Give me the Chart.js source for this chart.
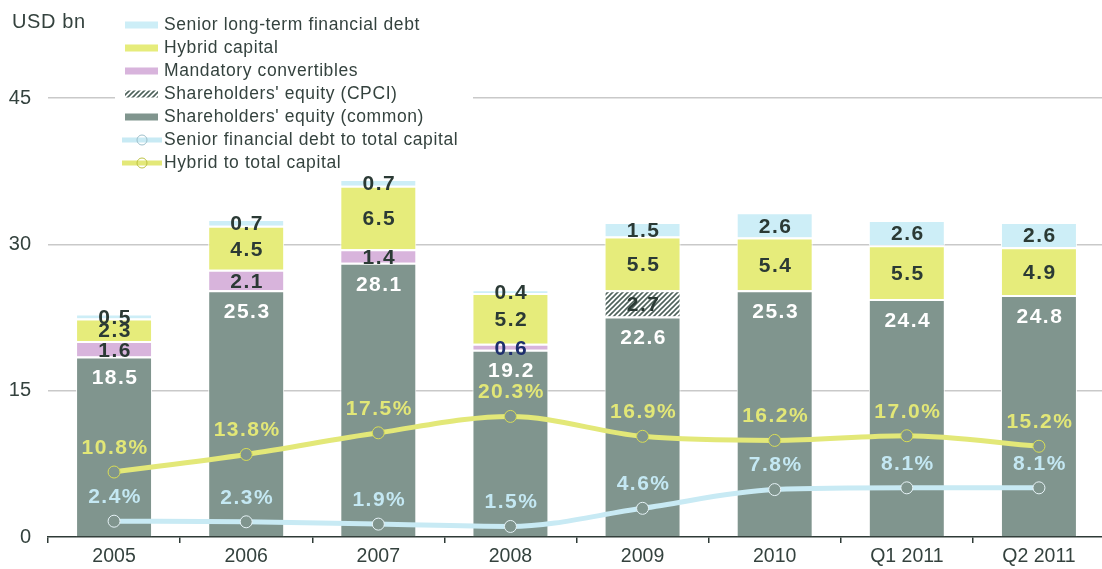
<!DOCTYPE html>
<html>
<head>
<meta charset="utf-8">
<script src="https://cdn.jsdelivr.net/npm/chart.js@4/dist/chart.umd.min.js"></script>
<style>
  html, body { margin: 0; padding: 0; background: #fff; overflow: hidden; }
  #wrap { position: relative; width: 1112px; height: 569px; }
</style>
</head>
<body>
<div id="wrap"><canvas id="chart"></canvas></div>
<script>
// capital structure, USD bn
const periods = ['2005', '2006', '2007', '2008', '2009', '2010', 'Q1 2011', 'Q2 2011'];
const equityCommon = [18.5, 25.3, 28.1, 19.2, 22.6, 25.3, 24.4, 24.8];
const equityCpci = [null, null, null, null, 2.7, null, null, null];
const mandatoryConv = [1.6, 2.1, 1.4, 0.6, null, null, null, null];
const hybridCapital = [2.3, 4.5, 6.5, 5.2, 5.5, 5.4, 5.5, 4.9];
const seniorDebt = [0.5, 0.7, 0.7, 0.4, 1.5, 2.6, 2.6, 2.6];
// ratios to total capital, %
const seniorRatio = [2.4, 2.3, 1.9, 1.5, 4.6, 7.8, 8.1, 8.1];
const hybridRatio = [10.8, 13.8, 17.5, 20.3, 16.9, 16.2, 17.0, 15.2];
const yTicks = [0, 15, 30, 45];

const FONT = '"Liberation Sans", Arial, sans-serif';
const TEXT = '#34423e';
const DARK = '#2b3a35';

const cCommon = '#80958e';
const cMand = '#d8b4dc';
const cHybrid = '#e6ec7b';
const cSenior = '#cdeef7';
const cLineY = '#e3e878';
const cLineB = '#c8eaf4';

function makeHatch() {
  const c = document.createElement('canvas');
  c.width = 5; c.height = 5;
  const g = c.getContext('2d');
  g.fillStyle = '#fff';
  g.fillRect(0, 0, 5, 5);
  g.strokeStyle = '#4e625b';
  g.lineWidth = 1.6;
  g.beginPath();
  g.moveTo(0, 5); g.lineTo(5, 0);
  g.moveTo(-2.5, 2.5); g.lineTo(2.5, -2.5);
  g.moveTo(2.5, 7.5); g.lineTo(7.5, 2.5);
  g.stroke();
  return g.createPattern(c, 'repeat');
}
const hatch = makeHatch();

const barBase = {
  type: 'bar',
  stack: 'cap',
  order: 2,
  borderColor: '#fff',
  borderWidth: { top: 2, left: 1, right: 1, bottom: 0 },
  borderSkipped: false,
  barPercentage: 0.575,
  categoryPercentage: 1
};

const datasets = [
  { ...barBase, label: "Shareholders' equity (common)", data: equityCommon, backgroundColor: cCommon, labelColor: '#fff' },
  { ...barBase, label: "Shareholders' equity (CPCI)", data: equityCpci, backgroundColor: hatch, labelColor: DARK },
  { ...barBase, label: 'Mandatory convertibles', data: mandatoryConv, backgroundColor: cMand,
    labelColor: [DARK, DARK, DARK, '#1d2e6e', DARK, DARK, DARK, DARK] },
  { ...barBase, label: 'Hybrid capital', data: hybridCapital, backgroundColor: cHybrid, labelColor: DARK },
  { ...barBase, label: 'Senior long-term financial debt', data: seniorDebt, backgroundColor: cSenior, labelColor: DARK },
  { type: 'line', label: 'Senior financial debt to total capital', data: seniorRatio, yAxisID: 'y1', order: 0,
    borderColor: cLineB, borderWidth: 5, cubicInterpolationMode: 'monotone',
    pointRadius: 6, pointBackgroundColor: cCommon, pointBorderColor: '#e6f3f7', pointBorderWidth: 1, labelColor: '#c4e8f3' },
  { type: 'line', label: 'Hybrid to total capital', data: hybridRatio, yAxisID: 'y1', order: 1,
    borderColor: cLineY, borderWidth: 5, cubicInterpolationMode: 'monotone',
    pointRadius: 6, pointBackgroundColor: cCommon, pointBorderColor: '#d9de55', pointBorderWidth: 1, labelColor: '#e2e777' }
];

const legendItems = [
  { text: 'Senior long-term financial debt', kind: 'box', color: cSenior },
  { text: 'Hybrid capital', kind: 'box', color: cHybrid },
  { text: 'Mandatory convertibles', kind: 'box', color: cMand },
  { text: "Shareholders' equity (CPCI)", kind: 'box', color: hatch },
  { text: "Shareholders' equity (common)", kind: 'box', color: cCommon },
  { text: 'Senior financial debt to total capital', kind: 'line', color: cLineB, ring: '#9dbfca' },
  { text: 'Hybrid to total capital', kind: 'line', color: cLineY, ring: '#bcc242' }
];

const decorations = {
  id: 'decorations',
  beforeDatasetsDraw(chart) {
    // clear the gridline behind the legend block
    const ctx = chart.ctx;
    ctx.save();
    ctx.fillStyle = '#fff';
    ctx.fillRect(115, 88, 358, 20);
    ctx.restore();
  },
  afterDatasetsDraw(chart) {
    const ctx = chart.ctx;
    ctx.save();
    ctx.font = 'bold 21px ' + FONT;
    ctx.letterSpacing = '1.5px';
    ctx.textAlign = 'center';
    ctx.textBaseline = 'middle';
    chart.data.datasets.forEach((ds, i) => {
      const meta = chart.getDatasetMeta(i);
      meta.data.forEach((el, j) => {
        const v = ds.data[j];
        if (v == null) return;
        const col = Array.isArray(ds.labelColor) ? ds.labelColor[j] : ds.labelColor;
        ctx.fillStyle = col;
        if (ds.type === 'line') {
          ctx.fillText(v.toFixed(1) + '%', el.x + 1, el.y - 24);
        } else if (i === 0) {
          ctx.fillText(v.toFixed(1), el.x + 1, el.y + 22);
        } else {
          ctx.fillText(v.toFixed(1), el.x + 1, (el.y + el.base) / 2 + 2);
        }
      });
    });
    ctx.restore();
  },
  afterDraw(chart) {
    const ctx = chart.ctx;
    ctx.save();
    ctx.letterSpacing = '0.6px';
    ctx.fillStyle = TEXT;
    ctx.textBaseline = 'middle';
    ctx.font = '20px ' + FONT;
    ctx.fillText('USD bn', 12, 22);

    ctx.font = '17.5px ' + FONT;
    legendItems.forEach((it, k) => {
      const y = 25 + k * 23;
      if (it.kind === 'box') {
        ctx.fillStyle = it.color;
        ctx.fillRect(125, y - 3.5, 33, 7);
      } else {
        ctx.strokeStyle = it.color;
        ctx.lineWidth = 5;
        ctx.beginPath();
        ctx.moveTo(122, y);
        ctx.lineTo(162, y);
        ctx.stroke();
        ctx.strokeStyle = it.ring;
        ctx.lineWidth = 1;
        ctx.beginPath();
        ctx.arc(142, y, 5, 0, Math.PI * 2);
        ctx.stroke();
      }
      ctx.fillStyle = TEXT;
      ctx.fillText(it.text, 164, y);
    });
    ctx.restore();
  }
};

Chart.defaults.font.family = FONT;

new Chart(document.getElementById('chart'), {
  data: { labels: periods, datasets: datasets },
  options: {
    responsive: true,
    maintainAspectRatio: false,
    animation: false,
    layout: { padding: { top: 98, left: 0, right: 0, bottom: 0 } },
    plugins: { legend: { display: false }, tooltip: { enabled: false } },
    scales: {
      x: {
        stacked: true,
        offset: true,
        afterFit: s => { s.height = 32; },
        border: { color: '#2e3a36', width: 1.5 },
        grid: { drawOnChartArea: false, offset: true, tickLength: 6, color: '#2e3a36', lineWidth: 1.5 },
        ticks: { padding: 2, color: TEXT, font: { size: 19.5 } }
      },
      y: {
        stacked: true,
        min: 0,
        max: 45,
        afterBuildTicks: s => { s.ticks = yTicks.map(v => ({ value: v })); },
        afterFit: s => { s.width = 48; },
        border: { display: false },
        grid: {
          drawTicks: false,
          lineWidth: 1.5,
          color: c => (c.tick && c.tick.value === 0) ? 'rgba(0,0,0,0)' : '#c9c9c9'
        },
        ticks: { padding: 17, color: TEXT, font: { size: 20 } }
      },
      y1: { display: false, position: 'right', min: -0.3, max: 74.7 }
    }
  },
  plugins: [decorations]
});
</script>
</body>
</html>
